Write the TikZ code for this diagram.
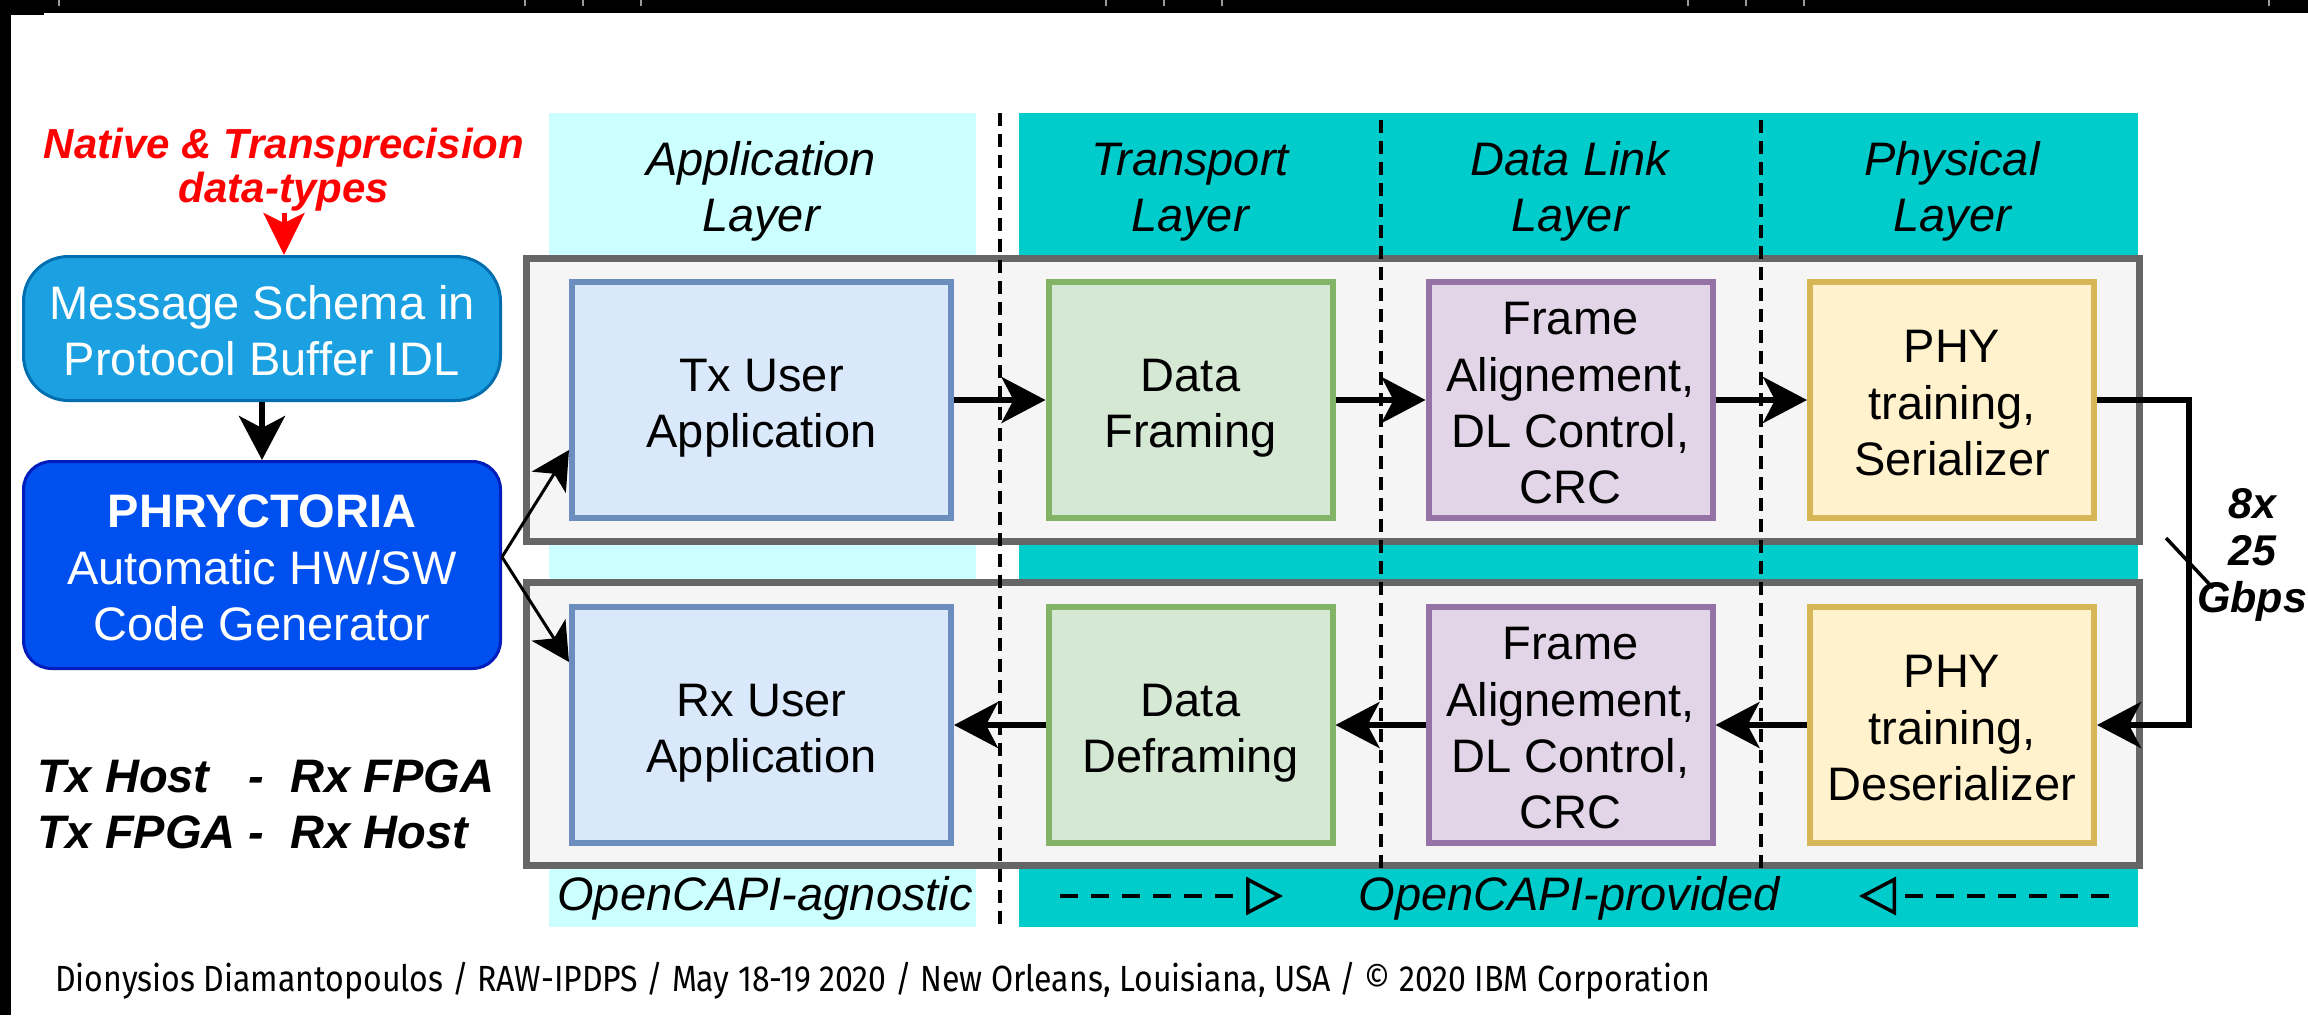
\documentclass[tikz,border=0pt]{standalone}
\usepackage{fontspec}
\setmainfont{Liberation Sans}
\newfontfamily\footerfont[FakeStretch=0.88]{Fira Sans}
\usetikzlibrary{arrows.meta}

\definecolor{appbg}{HTML}{CCFFFF}
\definecolor{ocbg}{HTML}{00CCCC}
\definecolor{schemafill}{HTML}{1BA1E2}
\definecolor{schemaline}{HTML}{006EAF}
\definecolor{genfill}{HTML}{0050EF}
\definecolor{genline}{HTML}{001DBC}
\definecolor{rowfill}{HTML}{F5F5F5}
\definecolor{rowline}{HTML}{666666}
\definecolor{bluefill}{HTML}{DAE8FC}
\definecolor{blueline}{HTML}{6C8EBF}
\definecolor{greenfill}{HTML}{D5E8D4}
\definecolor{greenline}{HTML}{82B366}
\definecolor{purplefill}{HTML}{E1D5E7}
\definecolor{purpleline}{HTML}{9673A6}
\definecolor{yellowfill}{HTML}{FFF2CC}
\definecolor{yellowline}{HTML}{D6B656}
\definecolor{tickgray}{HTML}{9A9A9A}
\definecolor{notered}{HTML}{FF0000}

% struts for the first and last line of a label: together they give the
% label a full 1.2em box per line, with a little extra head room on top
\newcommand\topln{\rule{0pt}{\dimexpr0.9465em+6pt\relax}}
\newcommand\botln{\rule[-0.2535em]{0pt}{0.2535em}}

\begin{document}
\begin{tikzpicture}[x=1pt,y=-1pt,
  lbl/.style={align=center, inner sep=0pt},
  body/.style={lbl, font=\fontsize{47}{56.4}\selectfont},
  ital/.style={lbl, font=\fontsize{47}{56.4}\selectfont\itshape},
  boldital/.style={lbl, font=\fontsize{47}{56.4}\selectfont\bfseries\itshape},
  panel/.style={draw=rowline, fill=rowfill, line width=7pt,
    minimum width=1613pt, minimum height=283pt, inner sep=0pt},
  stage/.style={body, draw, line width=6pt, minimum height=236pt},
  widestage/.style={stage, minimum width=379pt},
  narrowstage/.style={stage, minimum width=284pt},
  bluestage/.style={fill=bluefill, draw=blueline},
  greenstage/.style={fill=greenfill, draw=greenline},
  purplestage/.style={fill=purplefill, draw=purpleline},
  yellowstage/.style={fill=yellowfill, draw=yellowline},
  tool/.style={body, text=white, line width=3pt, minimum width=477pt},
  flow/.style={line width=5.5pt, -{Stealth[length=44pt, width=46pt, inset=12pt]}},
  redflow/.style={notered, line width=5pt, -{Stealth[length=42pt, width=41pt, inset=10pt]}},
  fork/.style={line width=3pt, -{Stealth[length=38pt, width=40pt, inset=10pt]}},
  layerline/.style={line width=4pt, dash pattern=on 13pt off 8pt},
  openflow/.style={line width=4pt, dash pattern=on 18pt off 13pt,
    -{Triangle[open, length=37pt, width=38pt, line width=3.5pt]}},
]
\useasboundingbox (0,0) rectangle (2308,1015);
\fill[white] (0,0) rectangle (2308,1015);

% frame strips and ruler ticks
\fill[black] (0,0) rectangle (2308,13);
\fill[black] (0,0) rectangle (11,1015);
\fill[black] (0,13) rectangle (44,14.5);
\foreach \t in {59,525,583,641,1106,1164,1222,1688,1746,1804,2269}
  \draw[tickgray, line width=1.5pt] (\t,0) -- (\t,6);

% layer backgrounds
\fill[appbg] (549,113) rectangle (976,927);
\fill[ocbg] (1019,113) rectangle (2138,927);

% Tx and Rx pipelines
\node[panel] (txrow) at (1333,400) {};
\node[panel] (rxrow) at (1333,724) {};

% layer boundaries
\draw[layerline] (1000,113) -- (1000,927);
\draw[layerline] (1381,120) -- (1381,875);
\draw[layerline] (1761,120) -- (1761,875);

% layer titles
\node[ital] (hApp) at (761,184) {\topln Application\\Layer\botln};
\node[ital] (hTr)  at (1190,184) {\topln Transport\\Layer\botln};
\node[ital] (hDl)  at (1570,184) {\topln Data Link\\Layer\botln};
\node[ital] (hPh)  at (1952,184) {\topln Physical\\Layer\botln};

% transmit stages
\node[widestage, bluestage]    (txapp) at (761.5,400) {\topln Tx User\\Application\botln};
\node[narrowstage, greenstage] (txfr)  at (1190.5,400) {\topln Data\\Framing\botln};
\node[narrowstage, purplestage](txdl)  at (1570.5,400) {\topln Frame\\Alignement,\\DL Control,\\CRC\botln};
\node[narrowstage, yellowstage](txphy) at (1952,400) {\topln PHY\\training,\\Serializer\botln};

% receive stages
\node[widestage, bluestage]    (rxapp) at (761.5,725) {\topln Rx User\\Application\botln};
\node[narrowstage, greenstage] (rxfr)  at (1190.5,725) {\topln Data\\Deframing\botln};
\node[narrowstage, purplestage](rxdl)  at (1570.5,725) {\topln Frame\\Alignement,\\DL Control,\\CRC\botln};
\node[narrowstage, yellowstage](rxphy) at (1952,725) {\topln PHY\\training,\\Deserializer\botln};

% tool chain
\node[boldital, text=notered, font=\fontsize{42}{44}\selectfont\bfseries\itshape]
  (note) at (284,162.5) {\topln Native \& Transprecision\\data-types\botln};
\node[tool, fill=schemafill, draw=schemaline, rounded corners=45pt,
  minimum height=144pt] (schema) at (262,328.5) {\topln Message Schema in\\Protocol Buffer IDL\botln};
\node[tool, fill=genfill, draw=genline, rounded corners=28pt,
  minimum height=207pt] (gen) at (262,565) {\topln\bfseries PHRYCTORIA\\Automatic HW/SW\\Code Generator\botln};

\draw[redflow] (note.south) -- (note.south |- schema.north);
\draw[flow] (schema.south) -- (gen.north);
\draw[fork] ([yshift=8pt]gen.east) -- ([yshift=-50pt]txapp.west);
\draw[fork] ([yshift=8pt]gen.east) -- ([yshift=63pt]rxapp.west);

\node[boldital, align=left, anchor=west] (roles) at (37,801)
  {\topln Tx Host\ \ \ -\ \ Rx FPGA\\Tx FPGA\ -\ \ Rx Host\botln};

% data path
\draw[flow] (txapp.east) -- (txfr.west);
\draw[flow] (txfr.east) -- (txdl.west);
\draw[flow] (txdl.east) -- (txphy.west);
\draw[flow] (txphy.east) -- ++(92,0) |- (rxphy.east);
\draw[flow] (rxphy.west) -- (rxdl.east);
\draw[flow] (rxdl.west) -- (rxfr.east);
\draw[flow] (rxfr.west) -- (rxapp.east);

% serial link lanes
\coordinate (tapA) at (2166,538);
\coordinate (tapB) at (2213,588);
\draw[line width=3.5pt] (tapA) -- (tapB);
\node[boldital, font=\fontsize{43}{47}\selectfont\bfseries\itshape]
  (lanes) at (2252,548) {\topln 8x\\25\\Gbps\botln};

% provenance band
\node[ital] (agn)  at (765,891) {\topln OpenCAPI-agnostic\botln};
\node[ital] (prov) at (1569,891) {\topln OpenCAPI-provided\botln};
\coordinate (pl0) at (1060,896);
\coordinate (pl1) at (1283,896);
\coordinate (pr0) at (2109,896);
\coordinate (pr1) at (1859,896);
\draw[openflow] (pl0) -- (pl1);
\draw[openflow] (pr0) -- (pr1);

% footer
\node[anchor=base west, inner sep=0pt, font=\footerfont\fontsize{36.4}{42}\selectfont]
  (foot) at (55,991) {Dionysios Diamantopoulos / RAW-IPDPS / May 18-19 2020 / New Orleans, Louisiana, USA / © 2020 IBM Corporation};
\end{tikzpicture}
\end{document}
